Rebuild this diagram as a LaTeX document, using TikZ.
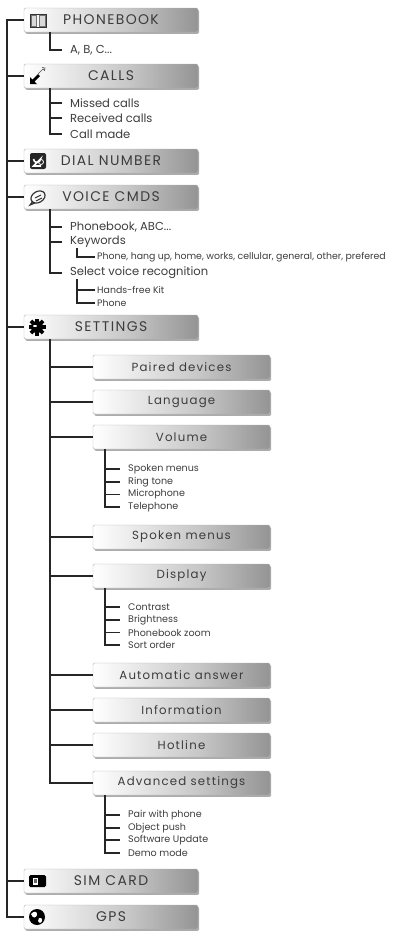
\documentclass[tikz,border=0pt]{standalone}
\usepackage{fontspec}
\setmainfont{Poppins}
\newfontfamily\spacedfont[LetterSpace=10]{Poppins}
\newfontfamily\subspaced[LetterSpace=10]{Poppins}
\usetikzlibrary{shadows,arrows.meta}
\definecolor{txt}{RGB}{60,60,60}
\pgfdeclarehorizontalshading{boxsh}{100bp}{color(0bp)=(white); color(25bp)=(white); color(55bp)=(black!22); color(88bp)=(black!55); color(95bp)=(black!68); color(97.5bp)=(black!45); color(100bp)=(black!28)}
\tikzset{
  conn/.style={line width=1.8pt, black!85},
  boxbase/.style={draw=black!30, line width=0.4pt, rounded corners=1.5pt, shading=boxsh,
    inner sep=0pt, text=txt,
    drop shadow={shadow xshift=1.2pt, shadow yshift=-1.8pt, opacity=0.5, fill=black!65}},
  topbox/.style={boxbase, minimum width=174bp, minimum height=24bp, font=\spacedfont\fontsize{14}{14}\selectfont},
  subbox/.style={boxbase, minimum width=177bp, minimum height=24bp, font=\subspaced\fontsize{11.8}{11.8}\selectfont},
  item/.style={anchor=west, inner xsep=8bp, inner ysep=0pt, text=txt, font=\fontsize{11.6}{12}\selectfont},
  smallitem/.style={anchor=west, inner xsep=2bp, inner ysep=0pt, text=txt, font=\fontsize{9.4}{10}\selectfont},
  vitem/.style={anchor=west, inner xsep=8bp, inner ysep=0pt, text=txt, font=\fontsize{9.6}{10}\selectfont},
}
\begin{document}
\begin{tikzpicture}[x=1bp,y=-1bp]
\useasboundingbox (0,0) rectangle (396,932);
% x reference coordinates
\coordinate (tx) at (7,0);
\coordinate (c50) at (50,0);
\coordinate (c77) at (77,0);
\coordinate (c105) at (105,0);

% top level boxes
\node[topbox] (pb)   at (111,20)  {PHONEBOOK};
\node[topbox] (calls) at (111,76) {CALLS};
\node[topbox] (dial) at (111,161) {DIAL NUMBER};
\node[topbox] (voice) at (111,197) {VOICE CMDS};
\node[topbox] (set)  at (111,327) {SETTINGS};
\node[topbox] (sim)  at (111,881) {SIM CARD};
\node[topbox] (gps)  at (111,917) {GPS};

% settings sub boxes
\node[subbox] (paired) at (181.5,367) {Paired devices};
\node[subbox] (lang)   at (181.5,402) {Language};
\node[subbox] (vol)    at (181.5,437) {Volume};
\node[subbox] (spoken) at (181.5,537) {Spoken menus};
\node[subbox] (disp)   at (181.5,576) {Display};
\node[subbox] (auto)   at (181.5,675) {Automatic answer};
\node[subbox] (info)   at (181.5,710) {Information};
\node[subbox] (hot)    at (181.5,745) {Hotline};
\node[subbox] (adv)    at (181.5,783) {Advanced settings};

% items
\node[item] (abc) at (62,50) {A, B, C...};
\node[item] (miss) at (62,103) {Missed calls};
\node[item] (recv) at (62,118) {Received calls};
\node[item] (made) at (62,134) {Call made};
\node[item] (pbabc) at (62,227) {Phonebook, ABC...};
\node[item] (kw) at (62,242) {Keywords};
\node[smallitem] (kwl) at (95,257) {Phone, hang up, home, works, cellular, general, other, prefered};
\node[item] (svr) at (62,273) {Select voice recognition};
\node[smallitem] (hfk) at (95,290) {Hands-free Kit};
\node[smallitem] (ph) at (95,303) {Phone};

\node[vitem] (v1) at (120,469) {Spoken menus};
\node[vitem] (v2) at (120,482) {Ring tone};
\node[vitem] (v3) at (120,494.5) {Microphone};
\node[vitem] (v4) at (120,507) {Telephone};

\node[vitem] (d1) at (120,607) {Contrast};
\node[vitem] (d2) at (120,620) {Brightness};
\node[vitem] (d3) at (120,632.5) {Phonebook zoom};
\node[vitem] (d4) at (120,645) {Sort order};

\node[vitem] (a1) at (120,815) {Pair with phone};
\node[vitem] (a2) at (120,828) {Object push};
\node[vitem] (a3) at (120,840) {Software Update};
\node[vitem] (a4) at (120,853) {Demo mode};

% trunk
\draw[conn] (pb.west) -- (pb.west -| tx) |- (gps.west);
\foreach \n in {calls,dial,voice,set,sim}
  \draw[conn] (\n.west) -- (\n.west -| tx);

% phonebook / calls
\draw[conn] (pb.south -| c50) |- (abc.west);
\draw[conn] (calls.south -| c50) |- (made.west);
\draw[conn] (miss.west) -- (miss.west -| c50);
\draw[conn] (recv.west) -- (recv.west -| c50);

% voice
\draw[conn] (voice.south -| c50) |- (svr.west);
\draw[conn] (pbabc.west) -- (pbabc.west -| c50);
\draw[conn] (kw.west) -- (kw.west -| c50);
\draw[conn, line width=1.4pt] (kw.south -| c77) |- (kwl.west);
\draw[conn, line width=1.4pt] (svr.south -| c77) |- (ph.west);
\draw[conn, line width=1.4pt] (hfk.west) -- (hfk.west -| c77);

% settings
\draw[conn] (set.south -| c50) |- (adv.west);
\foreach \n in {paired,lang,vol,spoken,disp,auto,info,hot}
  \draw[conn] (\n.west) -- (\n.west -| c50);

\draw[conn, line width=1.5pt] (vol.south -| c105) |- (v4.west);
\foreach \n in {v1,v2,v3} \draw[conn, line width=1.5pt] (\n.west) -- (\n.west -| c105);
\draw[conn, line width=1.5pt] (disp.south -| c105) |- (d4.west);
\foreach \n in {d1,d2,d3} \draw[conn, line width=1.5pt] (\n.west) -- (\n.west -| c105);
\draw[conn, line width=1.5pt] (adv.south -| c105) |- (a4.west);
\foreach \n in {a1,a2,a3} \draw[conn, line width=1.5pt] (\n.west) -- (\n.west -| c105);

% icons
% book
\begin{scope}[shift={(38,20)}]
  \fill[black!55] (-8,-6) rectangle (-0.8,7);
  \fill[black!55] (0.8,-6) rectangle (8,7);
  \fill[black!15] (-6.5,-4.5) rectangle (-2.2,5.5);
  \fill[black!15] (2.2,-4.5) rectangle (6.5,5.5);
  \draw[black!80, line width=0.6pt] (-8,-6) rectangle (8,7);
\end{scope}
% calls
\begin{scope}[shift={(37,76)}]
  \draw[black!70, line width=0.6pt] (1,-2) -- (6,-7) -- (7.5,-5.5) -- (8,-8) -- (5,-8.5) ;
  \fill[black] (-7,8) -- (-7,1) -- (-4.5,3.5) -- (1,-2) -- (3,0) -- (-2.5,5.5) -- (0,8) -- cycle;
\end{scope}
% dial
\begin{scope}[shift={(38,161)}]
  \fill[black!85, rounded corners=2pt] (-8,-8) rectangle (8,8);
  \draw[white, line width=1.6pt] (-4.5,-2) arc[start angle=180, end angle=0, radius=3.5] -- (-4.5,5) -- (3,5);
  \draw[white, line width=0.8pt] (3,1) circle[radius=2.5];
\end{scope}
% voice
\begin{scope}[shift={(38,197)}]
  \draw[black!80, line width=1.2pt, rotate=30] (0,0) ellipse[x radius=7.5, y radius=5.5];
  \draw[black!80, line width=1pt] (-3,1) -- (3,-2) (-2,4) -- (4,1);
  \draw[black!80, line width=1.2pt] (-5,4) -- (-8,8) -- (-3,6);
\end{scope}
% settings gear
\begin{scope}[shift={(37,327)}]
  \fill[black] (0,0) circle[radius=6];
  \foreach \a in {0,45,...,315}
    \fill[black, rotate=\a] (-1.8,-8.5) rectangle (1.8,-4);
  \fill[white] (-2,-1) ellipse[x radius=2, y radius=1];
\end{scope}
% sim
\begin{scope}[shift={(38,881)}]
  \fill[black, rounded corners=1.5pt] (-9,-6) rectangle (8,6);
  \fill[white] (-5,-3.5) rectangle (0,3.5);
  \fill[black!60] (-3.8,-2.3) rectangle (-1.2,2.3);
\end{scope}
% gps
\begin{scope}[shift={(37,917)}]
  \fill[black] (0,0) circle[radius=8];
  \fill[white] (-6,-3) .. controls (-3,-7) and (1,-5) .. (0,-2) .. controls (-1,1) and (-4,2) .. (-6,-3);
  \fill[white] (2,1) .. controls (6,0) and (6,5) .. (3,6) .. controls (1,6) and (0,3) .. (2,1);
\end{scope}
\end{tikzpicture}
\end{document}
